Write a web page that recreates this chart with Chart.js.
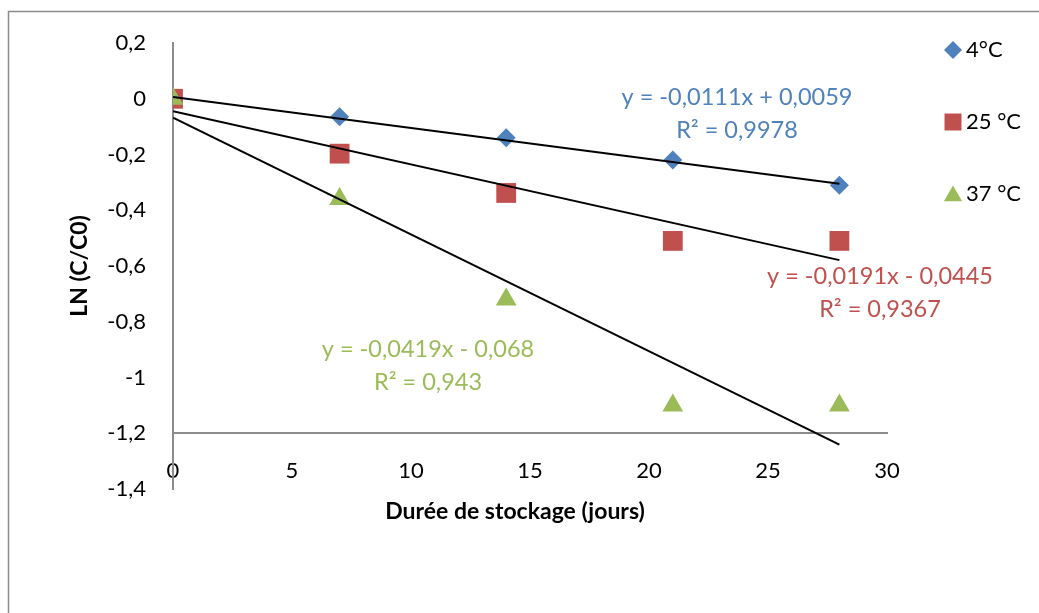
<!DOCTYPE html>
<html>
<head>
<meta charset="utf-8">
<script src="https://cdn.jsdelivr.net/npm/chart.js@4.4.1/dist/chart.umd.min.js"></script>
<style>
  html, body { margin: 0; padding: 0; background: #fff; }
  #wrap { position: relative; width: 1039px; height: 613px; }
</style>
</head>
<body>
<div id="wrap"><canvas id="chart" width="1039" height="613"></canvas></div>
<script>
// Storage time (days) and ln(C/C0)
const days = [0, 7, 14, 21, 28];
const ln4 = [0, -0.065, -0.14, -0.22, -0.31];
const ln25 = [0, -0.197, -0.338, -0.51, -0.51];
const ln37 = [0, -0.36, -0.72, -1.10, -1.10];

// Trendline end points (x = 0 and x = 28)
const trendX = [0, 28];
const trend4 = [0.0059, -0.305];
const trend25 = [-0.0445, -0.579];
const trend37 = [-0.068, -1.241];

const seriesNames = ["4°C", "25 °C", "37 °C"];
const seriesColors = ["#4f81bd", "#c0504d", "#9bbb59"];
const seriesStyles = ["rectRot", "rect", "triangle"];
const equations = [
    ["y = -0,0111x + 0,0059", "R² = 0,9978"],
    ["y = -0,0191x - 0,0445", "R² = 0,9367"],
    ["y = -0,0419x - 0,068", "R² = 0,943"],
];

const FONT = "Lato, 'Open Sans', sans-serif";
const AXIS_GREY = "#8c8c8c";

const toPoints = (xs, ys) => xs.map((x, i) => ({ x: x, y: ys[i] }));
const fmt = v => Number(v.toFixed(1)).toString().replace(".", ",");

// Frame, legend, axis titles and equation labels drawn on the canvas
const extrasPlugin = {
    id: "extras",
    beforeDraw(chart) {
        const ctx = chart.ctx;
        ctx.save();
        ctx.strokeStyle = AXIS_GREY;
        ctx.lineWidth = 1.5;
        ctx.beginPath();
        ctx.moveTo(8.5, 613);
        ctx.lineTo(8.5, 11.5);
        ctx.lineTo(1039, 11.5);
        ctx.stroke();
        ctx.restore();
    },
    afterDraw(chart) {
        const ctx = chart.ctx;
        ctx.save();
        // legend
        const legendY = [50, 122, 194];
        seriesNames.forEach((name, i) => {
            ctx.fillStyle = seriesColors[i];
            ctx.strokeStyle = seriesColors[i];
            const r = i === 0 ? 9 : (i === 1 ? 12 : 10.5);
            Chart.helpers.drawPoint(ctx, { pointStyle: seriesStyles[i], radius: r, borderWidth: 0 }, 953, legendY[i] + (i === 2 ? 2 : 0));
            ctx.fillStyle = "#000";
            ctx.font = "22px " + FONT;
            ctx.textAlign = "left";
            ctx.textBaseline = "middle";
            ctx.fillText(name, 966, legendY[i]);
        });
        // trendline equations
        const eqPos = [[737, 97], [880, 276], [428, 349]];
        equations.forEach((lines, i) => {
            ctx.fillStyle = seriesColors[i];
            ctx.font = "23.5px " + FONT;
            ctx.textAlign = "center";
            ctx.textBaseline = "middle";
            ctx.fillText(lines[0], eqPos[i][0], eqPos[i][1]);
            ctx.fillText(lines[1], eqPos[i][0], eqPos[i][1] + 33);
        });
        // axis titles
        ctx.fillStyle = "#000";
        ctx.font = "bold 23px " + FONT;
        ctx.textAlign = "center";
        ctx.textBaseline = "middle";
        ctx.fillText("Durée de stockage (jours)", 515, 512);
        ctx.translate(80, 266);
        ctx.rotate(-Math.PI / 2);
        ctx.fillText("LN (C/C0)", 0, 0);
        ctx.restore();
    }
};

const markerSets = [
    { data: ln37, idx: 2, radius: 12, order: 1 },
    { data: ln25, idx: 1, radius: 14, order: 2 },
    { data: ln4, idx: 0, radius: 9.5, order: 3 },
];

const datasets = [
    trend4, trend25, trend37
].map(t => ({
    type: "line",
    data: toPoints(trendX, t),
    borderColor: "#000",
    borderWidth: 2,
    pointRadius: 0,
    fill: false,
    order: 0,
})).concat(markerSets.map(s => ({
    label: seriesNames[s.idx],
    data: toPoints(days, s.data),
    pointStyle: seriesStyles[s.idx],
    pointRadius: s.radius,
    pointHoverRadius: s.radius,
    backgroundColor: seriesColors[s.idx],
    borderColor: seriesColors[s.idx],
    borderWidth: 0,
    showLine: false,
    order: s.order,
})));

new Chart(document.getElementById("chart"), {
    type: "scatter",
    data: { datasets: datasets },
    options: {
        responsive: false,
        animation: false,
        layout: { padding: { top: 43, bottom: 124, left: 0, right: 152 } },
        plugins: {
            legend: { display: false },
            tooltip: { enabled: false },
        },
        scales: {
            x: {
                type: "linear",
                min: 0,
                max: 30,
                position: { y: -1.2 },
                grid: { display: false, drawTicks: false },
                border: { display: true, color: AXIS_GREY, width: 2 },
                ticks: {
                    stepSize: 5,
                    padding: 24,
                    color: "#000",
                    font: { family: FONT, size: 22 },
                    maxRotation: 0,
                },
            },
            y: {
                type: "linear",
                min: -1.4,
                max: 0.2,
                position: "left",
                grid: { display: false, drawTicks: false },
                border: { display: true, color: AXIS_GREY, width: 2 },
                ticks: {
                    stepSize: 0.2,
                    padding: 27,
                    color: "#000",
                    font: { family: FONT, size: 22 },
                    callback: v => fmt(v),
                },
                afterFit: scale => { scale.width = 173; },
            },
        },
    },
    plugins: [extrasPlugin],
});
</script>
</body>
</html>
